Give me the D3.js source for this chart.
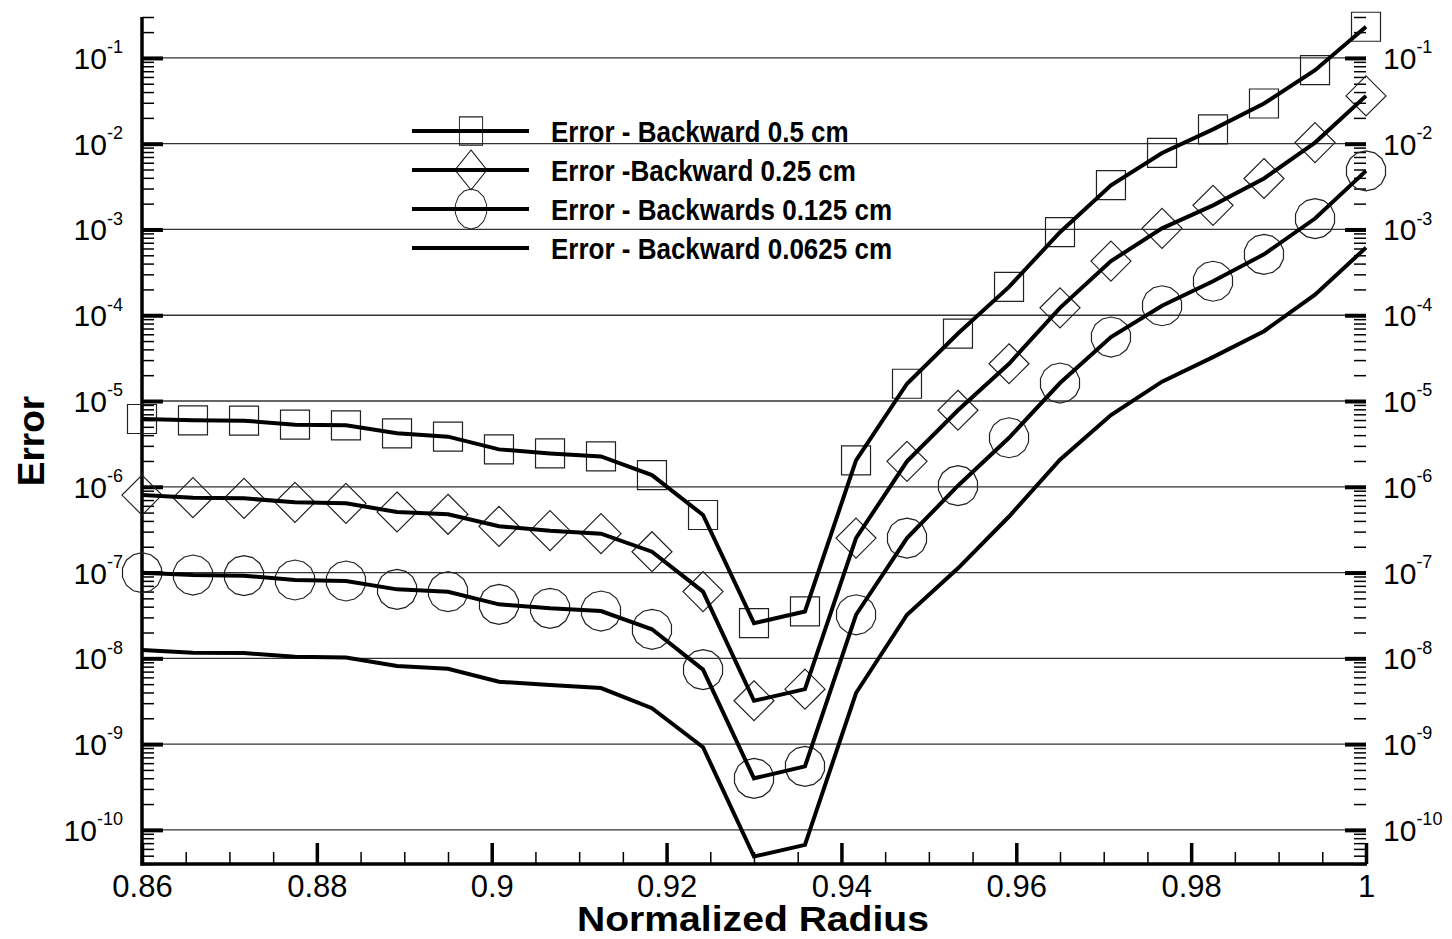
<!DOCTYPE html>
<html><head><meta charset="utf-8">
<script src="https://cdn.jsdelivr.net/npm/d3@7"></script>
<style>body{margin:0;background:#fff}svg{display:block}</style>
</head><body>
<svg id="c" width="1452" height="939"></svg>
<script>
// ---------- data ----------
const xValues = [0.86, 0.86583, 0.87167, 0.8775, 0.88333, 0.88917, 0.895, 0.90083, 0.90667, 0.9125,
  0.91833, 0.92417, 0.93, 0.93583, 0.94167, 0.9475, 0.95333, 0.95917, 0.965, 0.97083,
  0.97667, 0.9825, 0.98833, 0.99417, 1.0];
const err050 = [6.17e-6, 5.95e-6, 5.9e-6, 5.3e-6, 5.2e-6, 4.2e-6, 3.84e-6, 2.73e-6, 2.45e-6, 2.26e-6,
  1.37e-6, 4.69e-7, 2.57e-8, 3.52e-8, 2.03e-6, 1.59e-5, 6.12e-5, 2.14e-4, 9.3e-4, 3.28e-3,
  7.8e-3, 1.47e-2, 2.94e-2, 7.2e-2, 0.231];
const err025 = [8.0e-7, 7.46e-7, 7.33e-7, 6.59e-7, 6.41e-7, 5.08e-7, 4.78e-7, 3.46e-7, 3.08e-7, 2.84e-7,
  1.75e-7, 6.0e-8, 3.2e-9, 4.37e-9, 2.52e-7, 1.98e-6, 7.8e-6, 2.72e-5, 1.22e-4, 4.28e-4,
  1.03e-3, 1.91e-3, 3.93e-3, 1.03e-2, 3.61e-2];
const err0125 = [9.96e-8, 9.36e-8, 9.2e-8, 8.19e-8, 7.97e-8, 6.37e-8, 5.98e-8, 4.26e-8, 3.83e-8, 3.56e-8,
  2.18e-8, 7.38e-9, 3.99e-10, 5.5e-10, 3.22e-8, 2.52e-7, 1.03e-6, 3.73e-6, 1.62e-5, 5.57e-5,
  1.29e-4, 2.49e-4, 5.13e-4, 1.34e-3, 4.82e-3];
const err00625 = [1.25e-8, 1.16e-8, 1.15e-8, 1.045e-8, 1.02e-8, 8.13e-9, 7.57e-9, 5.34e-9, 4.89e-9, 4.5e-9,
  2.62e-9, 9.2e-10, 4.89e-11, 6.68e-11, 3.94e-9, 3.22e-8, 1.12e-7, 4.5e-7, 2.07e-6, 6.85e-6,
  1.68e-5, 3.25e-5, 6.52e-5, 1.74e-4, 6.14e-4];
const seriesNames = ["Error - Backward 0.5 cm", "Error -Backward 0.25 cm",
  "Error - Backwards 0.125 cm", "Error - Backward 0.0625 cm"];
const seriesSymbols = ["square", "diamond", "circle", "none"];
const xTickValues = [0.86, 0.88, 0.9, 0.92, 0.94, 0.96, 0.98, 1.0];
const xTickLabels = ["0.86", "0.88", "0.9", "0.92", "0.94", "0.96", "0.98", "1"];
const xMinorStep = 0.005;
const yTickExponents = [-10, -9, -8, -7, -6, -5, -4, -3, -2, -1];
const xTitle = "Normalized Radius";
const yTitle = "Error";

// ---------- setup ----------
const FONT = "'Liberation Sans', Arial, Helvetica, sans-serif";
const svg = d3.select("#c");
const x = d3.scaleLinear().domain([0.86, 1.0]).range([142, 1366]);
const y = d3.scaleLog().domain([4e-11, 0.3]).range([864, 17]);
const [x0, x1] = x.range();
const [yb, yt] = y.range();

const yMajor = yTickExponents.map(e => Math.pow(10, e));
const yMinor = [];
for (let e = -11; e <= -1; e++) for (let m = 2; m <= 9; m++) {
  const v = m * Math.pow(10, e);
  if (v >= y.domain()[0] * 0.999 && v <= y.domain()[1] * 1.001) yMinor.push(v);
}
const xMinor = d3.range(Math.round((1.0 - 0.86) / xMinorStep) + 1)
  .map(i => +(0.86 + i * xMinorStep).toFixed(4))
  .filter(v => !xTickValues.some(t => Math.abs(t - v) < 1e-9));

// ---------- grid ----------
svg.append("g").selectAll("line").data(yMajor).join("line")
  .attr("x1", x0).attr("x2", x1)
  .attr("y1", d => y(d)).attr("y2", d => y(d))
  .attr("stroke", "#333").attr("stroke-width", 1.3);

// ---------- axes ----------
function styleAxis(g, w) {
  g.select(".domain").remove();
  g.selectAll(".tick line").attr("stroke", "#000").attr("stroke-width", w);
}
// left
svg.append("g").attr("transform", `translate(${x0},0)`)
  .call(d3.axisLeft(y).tickValues(yMinor).tickSize(-12).tickFormat(""))
  .call(g => styleAxis(g, 1.5));
svg.append("g").attr("transform", `translate(${x0},0)`)
  .call(d3.axisLeft(y).tickValues(yMajor).tickSize(-21).tickFormat(""))
  .call(g => styleAxis(g, 4));
// right
svg.append("g").attr("transform", `translate(${x1},0)`)
  .call(d3.axisRight(y).tickValues(yMinor).tickSize(-12).tickFormat(""))
  .call(g => styleAxis(g, 1.5));
svg.append("g").attr("transform", `translate(${x1},0)`)
  .call(d3.axisRight(y).tickValues(yMajor).tickSize(-21).tickFormat(""))
  .call(g => styleAxis(g, 4));
// bottom
svg.append("g").attr("transform", `translate(0,${yb})`)
  .call(d3.axisBottom(x).tickValues(xMinor).tickSize(-12).tickFormat(""))
  .call(g => styleAxis(g, 1.5));
const gx = svg.append("g").attr("transform", `translate(0,${yb})`)
  .call(d3.axisBottom(x).tickValues(xTickValues).tickSize(-21).tickPadding(11)
    .tickFormat((d, i) => xTickLabels[i]))
  .call(g => styleAxis(g, 3.5));
gx.attr("font-family", FONT).attr("font-size", 31);
gx.selectAll(".tick text").attr("fill", "#000");

// axis lines
svg.append("line").attr("x1", x0).attr("x2", x0).attr("y1", yt).attr("y2", yb + 1.5)
  .attr("stroke", "#000").attr("stroke-width", 3.5);
svg.append("line").attr("x1", x0 - 1.5).attr("x2", x1 + 1).attr("y1", yb).attr("y2", yb)
  .attr("stroke", "#000").attr("stroke-width", 3.5);

// y tick labels (10^n)
function powLabel(g, anchor, xpos) {
  const t = g.selectAll("text.yl").data(yTickExponents).join("text")
    .attr("class", "yl")
    .attr("x", xpos).attr("y", d => y(Math.pow(10, d)) + 11)
    .attr("text-anchor", anchor)
    .attr("font-family", FONT).attr("font-size", 30).attr("fill", "#000");
  t.append("tspan").text("10");
  t.append("tspan").attr("dy", -15.7).attr("font-size", 18).text(d => String(d));
}
powLabel(svg.append("g"), "end", 123);
powLabel(svg.append("g"), "start", 1383);

// ---------- titles ----------
svg.append("text").attr("x", (x0 + x1) / 2 - 1).attr("y", 931)
  .attr("text-anchor", "middle").attr("font-family", FONT).attr("font-weight", "bold")
  .attr("font-size", 35).attr("textLength", 352).attr("lengthAdjust", "spacingAndGlyphs")
  .text(xTitle);
svg.append("text").attr("transform", "translate(43.5,441) rotate(-90)")
  .attr("text-anchor", "middle").attr("font-family", FONT).attr("font-weight", "bold")
  .attr("font-size", 37).text(yTitle);

// ---------- markers ----------
function symbolPath(type) {
  if (type === "square") { const h = 14.5; return `M${-h},${-h}H${h}V${h}H${-h}Z`; }
  if (type === "diamond") { const h = 20; return `M0,${-h}L${h},0L0,${h}L${-h},0Z`; }
  if (type === "circle") {
    const n = 14, r = 20;
    return d3.range(n).map(i => {
      const a = (i / n) * 2 * Math.PI;
      return (i ? "L" : "M") + (r * Math.sin(a)).toFixed(2) + "," + (-r * Math.cos(a)).toFixed(2);
    }).join("") + "Z";
  }
  return null;
}
const allSeries = [err050, err025, err0125, err00625];
const markerG = svg.append("g");
allSeries.forEach((vals, si) => {
  const p = symbolPath(seriesSymbols[si]);
  if (!p) return;
  markerG.append("g").selectAll("path").data(vals.map((v, i) => [xValues[i], v])).join("path")
    .attr("transform", d => `translate(${x(d[0])},${y(d[1])})`)
    .attr("d", p).attr("fill", "none").attr("stroke", "#222").attr("stroke-width", 1.2);
});

// ---------- lines ----------
const line = d3.line().x(d => x(d[0])).y(d => y(d[1]));
allSeries.forEach(vals => {
  svg.append("path").datum(vals.map((v, i) => [xValues[i], v]))
    .attr("d", line).attr("fill", "none").attr("stroke", "#000")
    .attr("stroke-width", 4).attr("stroke-linejoin", "miter").attr("stroke-miterlimit", 4);
});

// ---------- legend ----------
const legendRows = [131, 170, 209, 248];
const leg = svg.append("g");
seriesNames.forEach((name, i) => {
  const ry = legendRows[i];
  const p = symbolPath(seriesSymbols[i]);
  if (p) leg.append("path").attr("d", p)
    .attr("transform", `translate(471,${ry}) scale(0.8,${i === 0 ? 0.97 : 1})`)
    .attr("fill", "none").attr("stroke", "#222").attr("stroke-width", 1.2);
  leg.append("line").attr("x1", 412).attr("x2", 529).attr("y1", ry).attr("y2", ry)
    .attr("stroke", "#000").attr("stroke-width", 4);
  leg.append("text").attr("transform", `translate(551,${ry + 10.7}) scale(0.867,1)`)
    .attr("font-family", FONT).attr("font-weight", "bold").attr("font-size", 30)
    .attr("fill", "#000").text(name);
});
</script>
</body></html>
